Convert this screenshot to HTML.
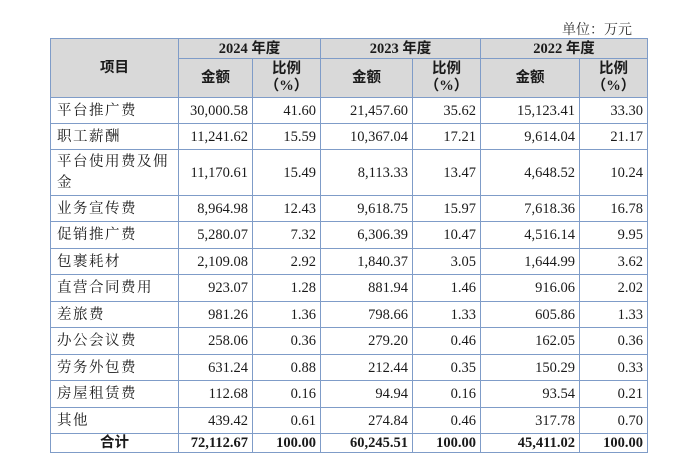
<!DOCTYPE html>
<html><head><meta charset="utf-8"><style>
body{margin:0;background:#fff;width:680px;height:466px;overflow:hidden;font-family:"Liberation Serif","Noto Serif CJK SC",serif;color:#1a1a1a}
.unit{position:absolute;left:562px;top:19px;font-size:14px;color:#333;font-family:"Liberation Serif","Noto Serif CJK SC",serif}
table{position:absolute;left:50px;top:38px;border-collapse:collapse;table-layout:fixed;font-size:14.5px}
td{border:1px solid #7f9cc8;padding:0 4px;white-space:nowrap;overflow:hidden;line-height:16px}
.h{background:#d9d9d9;font-weight:bold;text-align:center;font-family:"Liberation Serif","Noto Sans CJK SC",sans-serif}
.r{text-align:right}
.l{text-align:left;padding-left:6px;letter-spacing:1.5px}
.t td{font-weight:bold}
</style></head><body>
<div class="unit">单位：万元</div>
<table>
<colgroup><col style="width:128px"><col style="width:74px"><col style="width:68px"><col style="width:92px"><col style="width:68px"><col style="width:99px"><col style="width:68px"></colgroup>
<tr style="height:20px"><td class="h" rowspan="2">项目</td><td class="h" colspan="2">2024 年度</td><td class="h" colspan="2">2023 年度</td><td class="h" colspan="2">2022 年度</td></tr>
<tr style="height:39px"><td class="h">金额</td><td class="h" style="line-height:17px">比例<br>（%）</td><td class="h">金额</td><td class="h" style="line-height:17px">比例<br>（%）</td><td class="h">金额</td><td class="h" style="line-height:17px">比例<br>（%）</td></tr>
<tr style="height:26px"><td class="l">平台推广费</td><td class="r">30,000.58</td><td class="r">41.60</td><td class="r">21,457.60</td><td class="r">35.62</td><td class="r">15,123.41</td><td class="r">33.30</td></tr>
<tr style="height:26px"><td class="l">职工薪酬</td><td class="r">11,241.62</td><td class="r">15.59</td><td class="r">10,367.04</td><td class="r">17.21</td><td class="r">9,614.04</td><td class="r">21.17</td></tr>
<tr style="height:46px"><td class="l" style="white-space:normal;line-height:21px">平台使用费及佣金</td><td class="r">11,170.61</td><td class="r">15.49</td><td class="r">8,113.33</td><td class="r">13.47</td><td class="r">4,648.52</td><td class="r">10.24</td></tr>
<tr style="height:26px"><td class="l">业务宣传费</td><td class="r">8,964.98</td><td class="r">12.43</td><td class="r">9,618.75</td><td class="r">15.97</td><td class="r">7,618.36</td><td class="r">16.78</td></tr>
<tr style="height:27px"><td class="l">促销推广费</td><td class="r">5,280.07</td><td class="r">7.32</td><td class="r">6,306.39</td><td class="r">10.47</td><td class="r">4,516.14</td><td class="r">9.95</td></tr>
<tr style="height:26px"><td class="l">包裹耗材</td><td class="r">2,109.08</td><td class="r">2.92</td><td class="r">1,840.37</td><td class="r">3.05</td><td class="r">1,644.99</td><td class="r">3.62</td></tr>
<tr style="height:27px"><td class="l">直营合同费用</td><td class="r">923.07</td><td class="r">1.28</td><td class="r">881.94</td><td class="r">1.46</td><td class="r">916.06</td><td class="r">2.02</td></tr>
<tr style="height:26px"><td class="l">差旅费</td><td class="r">981.26</td><td class="r">1.36</td><td class="r">798.66</td><td class="r">1.33</td><td class="r">605.86</td><td class="r">1.33</td></tr>
<tr style="height:27px"><td class="l">办公会议费</td><td class="r">258.06</td><td class="r">0.36</td><td class="r">279.20</td><td class="r">0.46</td><td class="r">162.05</td><td class="r">0.36</td></tr>
<tr style="height:26px"><td class="l">劳务外包费</td><td class="r">631.24</td><td class="r">0.88</td><td class="r">212.44</td><td class="r">0.35</td><td class="r">150.29</td><td class="r">0.33</td></tr>
<tr style="height:27px"><td class="l">房屋租赁费</td><td class="r">112.68</td><td class="r">0.16</td><td class="r">94.94</td><td class="r">0.16</td><td class="r">93.54</td><td class="r">0.21</td></tr>
<tr style="height:26px"><td class="l">其他</td><td class="r">439.42</td><td class="r">0.61</td><td class="r">274.84</td><td class="r">0.46</td><td class="r">317.78</td><td class="r">0.70</td></tr>
<tr class="t" style="height:19px"><td style="text-align:center;font-family:'Liberation Serif','Noto Sans CJK SC',sans-serif">合计</td><td class="r">72,112.67</td><td class="r">100.00</td><td class="r">60,245.51</td><td class="r">100.00</td><td class="r">45,411.02</td><td class="r">100.00</td></tr>
</table>
</body></html>
